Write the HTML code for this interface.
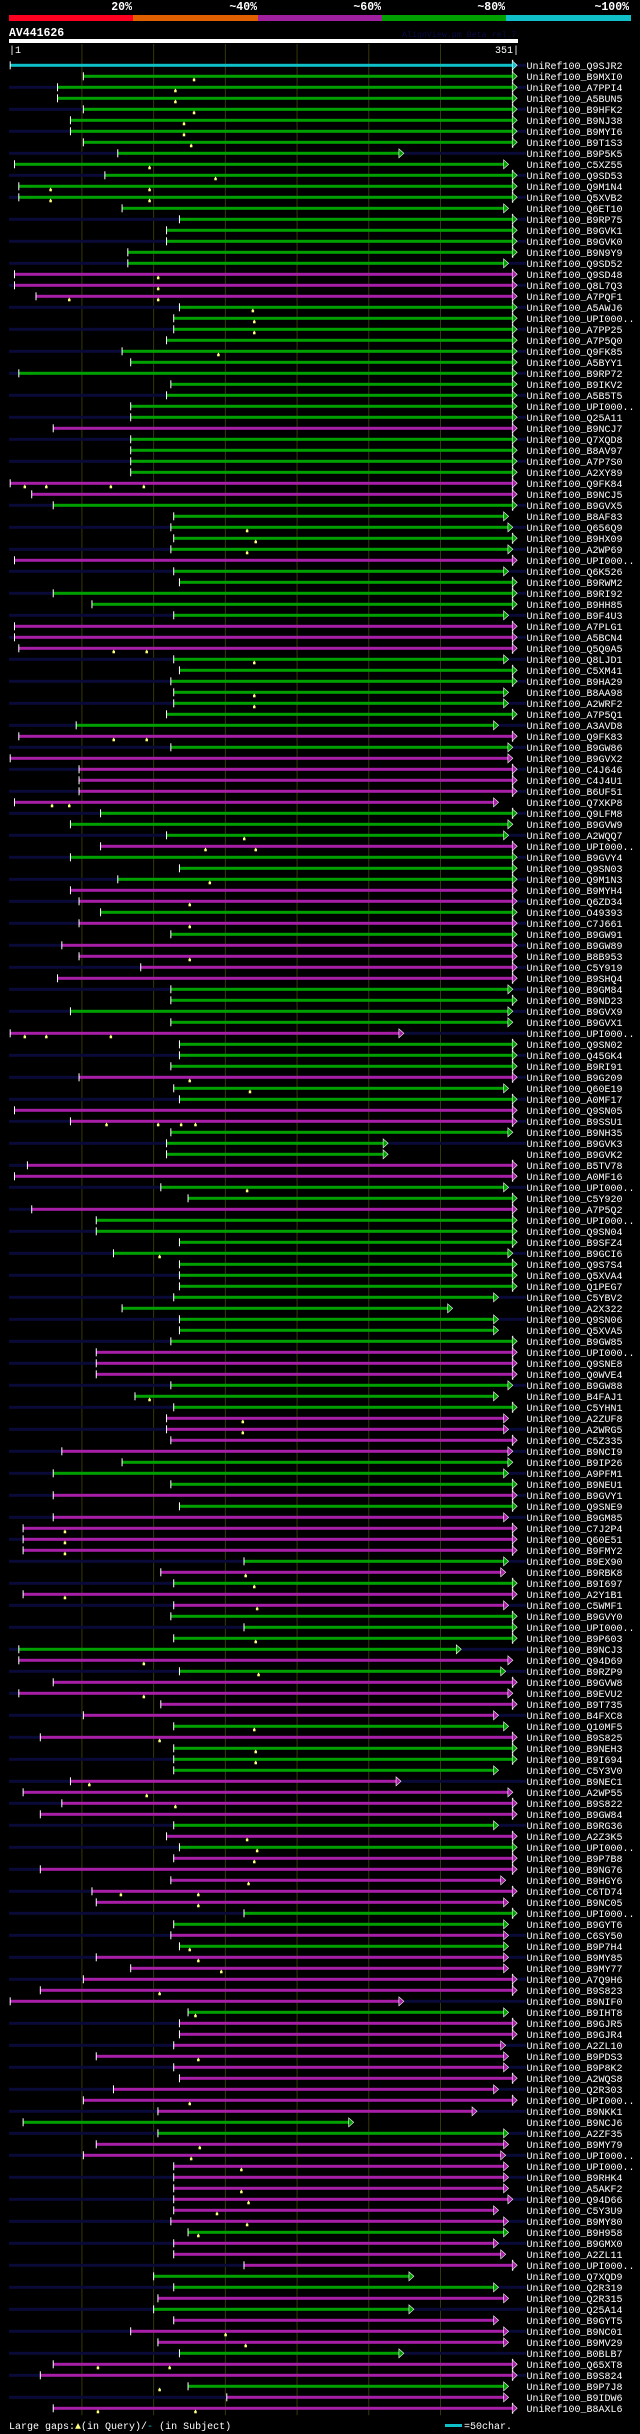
<!DOCTYPE html>
<html><head><meta charset="utf-8"><style>
html,body{margin:0;padding:0;background:#000;}
svg{display:block;}
text{font-family:"Liberation Mono",monospace;}
</style></head><body>
<svg id="chart" width="640" height="2434" viewBox="0 0 640 2434" xmlns="http://www.w3.org/2000/svg">
<rect x="0" y="0" width="640" height="2434" fill="#000"/>
<g id="header">
  <rect x="9" y="15" width="124" height="6" fill="#ff0020"/>
  <rect x="133" y="15" width="125" height="6" fill="#e06000"/>
  <rect x="258" y="15" width="124" height="6" fill="#a020a0"/>
  <rect x="382" y="15" width="124" height="6" fill="#00a000"/>
  <rect x="506" y="15" width="125" height="6" fill="#10c0c8"/>
  <text x="132" y="10" text-anchor="end" fill="#fff" font-size="11.5" font-weight="bold">20%</text>
  <text x="257" y="10" text-anchor="end" fill="#fff" font-size="11.5" font-weight="bold">~40%</text>
  <text x="381" y="10" text-anchor="end" fill="#fff" font-size="11.5" font-weight="bold">~60%</text>
  <text x="505" y="10" text-anchor="end" fill="#fff" font-size="11.5" font-weight="bold">~80%</text>
  <text x="629" y="10" text-anchor="end" fill="#fff" font-size="11.5" font-weight="bold">~100%</text>
</g>
<text x="9" y="36" fill="#fff" font-size="11.5" font-weight="bold">AV441626</text>
<text x="402" y="37" fill="#0a0a48" font-size="8.3">AlignView.pm Beta rel.7</text>
<rect x="9" y="39" width="509" height="4" fill="#fff"/>
<text x="9" y="53" fill="#fff" font-size="10">|1</text>
<text x="519" y="53" text-anchor="end" fill="#fff" font-size="10">351|</text>
<g id="grid"></g>
<g id="rows"></g>
<g id="footer">
  <text x="9" y="2429" fill="#fff" font-size="10">Large gaps:<tspan fill="#ffff80">▲</tspan>(in Query)/<tspan fill="#10c0c8">-</tspan> (in Subject)</text>
  <rect x="445" y="2424" width="17" height="3" fill="#10c0c8"/>
  <text x="464" y="2429" fill="#fff" font-size="10">=50char.</text>
</g>
</svg>
<script>
const names = ["Q9SJR2","B9MXI0","A7PPI4","A5BUN5","B9HFK2","B9NJ38","B9MYI6","B9T1S3","B9P5K5","C5XZ55","Q9SD53","Q9M1N4","Q5XVB2","Q6ET10","B9RP75","B9GVK1","B9GVK0","B9N9Y9","Q9SD52","Q9SD48","Q8L7Q3","A7PQF1",
"A5AWJ6","UPI000..","A7PP25","A7P5Q0","Q9FK85","A5BYY1","B9RP72","B9IKV2","A5B5T5","UPI000..","Q25A11","B9NCJ7","Q7XQD8","B8AV97","A7P7S0","A2XY89","Q9FK84","B9NCJ5","B9GVX5","B8AF83","Q656Q9",
"B9HX09","A2WP69","UPI000..","Q6K526","B9RWM2","B9RI92","B9HH85","B9F4U3","A7PLG1","A5BCN4","Q5Q0A5","Q8LJD1","C5XM41","B9HA29","B8AA98","A2WRF2","A7P5Q1","A3AVD8","Q9FK83","B9GW86","B9GVX2","C4J646","C4J4U1","B6UF51","Q7XKP8","Q9LFM8","B9GVW9","A2WQQ7","UPI000..","B9GVY4","Q9SN03","Q9M1N3","B9MYH4","Q6ZD34","O49393","C7J661","B9GW91","B9GW89","B8B953","C5Y919","B9SHQ4","B9GM84","B9ND23",
"B9GVX9","B9GVX1","UPI000..","Q9SN02","Q45GK4","B9RI91","B9G209","Q60E19","A0MF17","Q9SN05","B9SSU1","B9NH35","B9GVK3","B9GVK2","B5TV78","A0MF16","UPI000..","C5Y920","A7P5Q2","UPI000..","Q9SN04","B9SFZ4","B9GCI6","Q9S7S4","Q5XVA4","Q1PEG7","C5YBV2","A2X322","Q9SN06","Q5XVA5","B9GW85","UPI000..","Q9SNE8","Q0WVE4","B9GW88","B4FAJ1","C5YHN1","A2ZUF8","A2WRG5","C5Z335","B9NCI9","B9IP26","A9PFM1",
"B9NEU1","B9GVY1","Q9SNE9","B9GM85","C7J2P4","Q60E51","B9FMY2","B9EX90","B9RBK8","B9I697","A2Y1B1","C5WMF1","B9GVY0","UPI000..","B9P603","B9NCJ3","Q94D69","B9RZP9","B9GVW8","B9EVU2","B9T735","B4FXC8","Q10MF5","B9S825","B9NEH3","B9I694","C5Y3V0","B9NEC1","A2WP55","B9S822","B9GW84","B9RG36","A2Z3K5","UPI000..","B9P7B8","B9NG76","B9HGY6","C6TD74","B9NC05","UPI000..","B9GYT6","C6SY50","B9P7H4","B9MY85",
"B9MY77","A7Q9H6","B9S823","B9NIF0","B9IHT8","B9GJR5","B9GJR4","A2ZL10","B9PDS3","B9P8K2","A2WQS8","Q2R303","UPI000..","B9NKK1","B9NCJ6","A2ZF35","B9MY79","UPI000..","UPI000..","B9RHK4","A5AKF2","Q94D66","C5Y3U9","B9MY80","B9H958","B9GMX0","A2ZL11","UPI000..","Q7XQD9","Q2R319","Q2R315","Q25A14","B9GYT5","B9NC01","B9MV29","B0BLB7","Q65XT8","B9S824","B9P7J8","B9IDW6","B8AXL6"];
const colors = [
"c","g","g","g","g","g","g","g","g","g", "g","g","g","g","g","g","g","g","g","m", "m","m",
"g","g","g","g","g","g","g","g","g","g", "g","m","g","g","g","g","m","m","g","g", "g",
"g","g","m","g","g","g","g","g","m","m", "m","g","g","g","g","g","g","g","m","g", "m","m","m","m","m","g","g","g","m","g", "g","g","m","m","g","m","g","m","m","m", "m","g","g",
"g","g","m","g","g","g","m","g","g","m", "m","g","g","g","m","m","g","g","m","g", "g","g","g","g","g","g","g","g","g","g", "g","m","m","m","g","g","g","m","m","m", "m","g","g",
"g","m","g","m","m","m","m","g","m","g", "m","m","g","g","g","g","m","g","m","m", "m","m","g","m","g","g","g","m","m","m", "m","g","m","g","m","m","m","m","m","g", "g","m","g","m",
"m","m","m","m","g","m","m","m","m","m", "m","m","m","m","g","g","m","m","m","m", "m","m","m","m","g","m","m","m","g","g", "m","g","m","m","m","g","m","m","g","m", "m"];
const starts = [1,52,34,34,52,43,43,52,76,4,67,7,7,79,119,110,110,83,83,4,4,19,
119,115,115,110,79,85,7,113,110,85,85,31,85,85,85,85,1,16,31,115,113,
115,113,4,115,119,31,58,115,4,4,7,115,119,113,115,115,110,47,7,113,1,49,49,49,4,64,43,110,64,43,119,76,43,49,64,49,113,37,49,92,34,113,113,
43,113,1,119,119,113,49,115,119,4,43,113,110,110,13,4,106,125,16,61,61,119,73,119,119,119,115,79,119,119,113,61,61,61,113,88,115,110,110,113,37,79,31,
113,31,119,31,10,10,10,164,106,115,10,115,113,164,115,7,7,119,31,7,106,52,115,22,115,115,115,43,10,37,22,115,110,119,115,22,113,58,61,164,115,113,119,61,
85,52,22,1,125,119,119,115,61,115,119,73,52,104,10,104,61,52,115,115,115,115,115,113,125,115,115,164,101,115,104,101,115,85,104,119,31,22,125,152,31];
const ends = [351,351,351,351,351,351,351,351,272,345,351,351,351,345,351,351,351,351,345,351,351,351,
351,351,351,351,351,351,351,351,351,351,351,351,351,351,351,351,351,351,351,345,348,
351,348,351,345,351,351,351,345,351,351,351,345,351,351,345,345,351,338,351,348,348,351,351,351,338,351,348,345,351,351,351,351,351,351,351,351,351,351,351,351,351,348,351,
348,348,272,351,351,351,351,345,351,351,351,348,261,261,351,351,345,351,351,351,351,351,348,351,351,351,338,306,338,338,351,351,351,351,348,338,351,345,345,351,348,348,345,
351,351,351,345,351,351,351,345,343,351,351,345,351,351,351,312,348,343,351,348,351,338,345,351,351,351,338,270,348,351,351,338,351,351,351,351,343,351,345,351,345,345,345,345,
345,351,351,272,345,351,351,343,345,345,351,338,351,323,237,345,345,343,345,345,345,348,338,345,345,338,343,351,279,338,345,279,338,345,345,272,351,351,345,345,351];
const dark = [2,0,3,0,3,0,3,0,3,0,3,0,3,0,3,0,3,0,3,0,3,0,
3,0,3,0,3,0,3,0,3,0,3,0,3,0,3,0,0,0,3,0,3,
0,3,0,3,0,3,0,3,0,3,0,3,0,3,0,3,0,3,0,3,0,3,0,3,0,3,0,3,0,3,0,3,0,3,0,3,0,3,0,3,0,3,0,
3,0,2,0,3,0,3,0,3,0,3,0,3,0,1,0,3,0,1,0,1,0,3,0,1,0,3,0,3,0,1,0,1,0,3,0,1,0,3,0,3,0,3,
0,3,0,3,0,1,0,3,0,1,0,3,0,1,0,3,0,3,0,1,0,3,0,1,0,1,0,3,0,1,0,3,0,1,0,1,0,1,0,1,0,3,0,3,
0,3,0,2,0,1,0,3,0,3,0,3,0,3,0,3,0,3,0,3,0,3,0,3,0,3,0,1,0,3,0,3,0,3,0,3,0,3,0,1,0,3,0];
const gapRows = [1,2,3,4,5,6,7,9,10,11,11,12,12,19,20,21,21,22,23,24,26,38,38,38,38,42,
43,44,53,53,54,57,58,61,61,67,67,70,71,71,74,76,78,81,
88,88,88,92,93,96,96,96,96,102,108,121,123,124,
133,134,135,137,138,139,140,143,145,146,148,151,152,153,154,156,157,158,161,162,163,165,166,166,167,171,172,
173,175,177,181,185,189,190,191,193,194,195,196,197,206,207,209,209,211,213,213];
const gapRes = [129,116,116,129,122,122,127,98,144,29,98,29,98,104,104,42,104,170,171,171,146,11,26,71,94,166,
172,166,73,96,171,171,171,73,96,30,42,164,137,172,140,126,126,126,
11,26,71,126,168,68,104,120,130,166,105,98,163,163,
39,39,39,165,171,39,173,172,94,174,94,171,105,172,172,56,96,116,166,173,171,167,78,132,132,126,132,
148,105,130,132,126,133,127,162,162,167,145,166,132,151,165,62,112,105,130,62,112];

const X0 = 10.2, PX = 1.4343, Y0 = 65.3, DY = 11;
function xScale(r){ return X0 + (r - 1) * PX; }
function yScale(i){ return Y0 + i * DY; }
const colMap = {g:"#00a000", m:"#a61fa6", c:"#10c0c8"};
const NS = "http://www.w3.org/2000/svg";
function mk(tag, attrs, parent){ const e = document.createElementNS(NS, tag); for (const k in attrs) e.setAttribute(k, attrs[k]); parent.appendChild(e); return e; }

const grid = document.getElementById('grid');
const yEnd = yScale(names.length - 1) + 7;
[51,101,151,201,251,301].forEach(function(r){
  const l = mk('line', {x1:xScale(r), x2:xScale(r), y1:44, y2:yEnd, stroke:'#38380c', 'stroke-width':1}, grid);
  
  
});

const rowsG = document.getElementById('rows');
for (let i = 0; i < names.length; i++) {
  const y = yScale(i);
  const g = mk('g', {}, rowsG);
  
  
  const sx = xScale(starts[i]), ex = xScale(ends[i]);
  const d = dark[i];
  if (d & 1) {
    const nl = mk('rect', {x:9, y:y-1.5, width:Math.max(0, sx-9), height:3, fill:'#0a0a38'}, g);
    
    
  }
  if (d & 2) {
    const nr = mk('rect', {x:ex+5, y:y-1.5, width:Math.max(0, 526-ex-5), height:3, fill:'#0a0a38'}, g);
    
    
  }
  const col = colMap[colors[i]] || colMap.m;
  const bar = mk('rect', {x:sx, y:y-1.5, width:ex-sx, height:3, fill:col}, g);
  
  
  const tk = mk('rect', {x:sx-0.5, y:y-4, width:1, height:8, fill:'#fff'}, g);
  
  
  if (ends[i] >= 351) {
    const et = mk('rect', {x:ex, y:y-5.5, width:1, height:11, fill:'#fff'}, g);
    
    
  }
  const tri = mk('polygon', {points:(ex)+','+(y-4.5)+' '+(ex+5)+','+y+' '+(ex)+','+(y+4.5), fill:col, stroke:'#fff', 'stroke-width':0.6}, g);
  
  
  const t = mk('text', {x:526.5, y:y+3.6, fill:'#fff', 'font-size':10}, g);
  t.textContent = 'UniRef100_' + names[i];
  
  
}
for (let k = 0; k < gapRows.length; k++) {
  const y = yScale(gapRows[k]);
  const gx = xScale(gapRes[k]);
  const m = mk('rect', {x:gx-1, y:y+2.5, width:2.5, height:2.5, fill:'#ffff80'}, rowsG);
  
  
  const s = mk('rect', {x:gx-0.25, y:y+1.5, width:1, height:1.5, fill:'#ffff80'}, rowsG);
  
  
}
</script>
</body></html>
